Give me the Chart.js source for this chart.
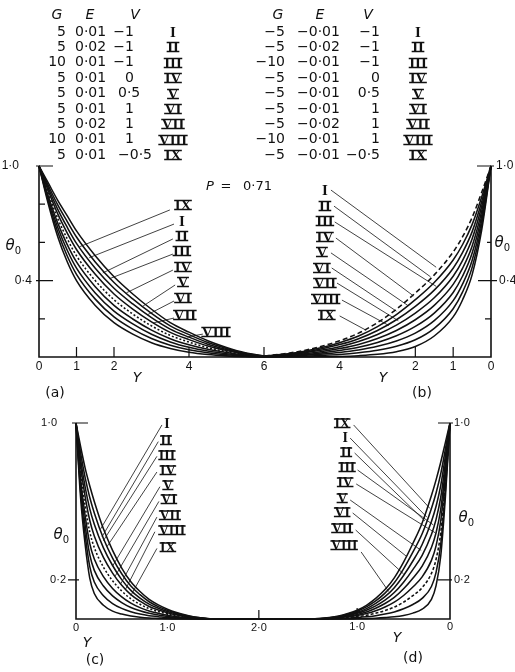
<!DOCTYPE html>
<html>
<head>
<meta charset="utf-8">
<title>Temperature profiles θ0 against Y, P = 0·71</title>
<script src="https://cdn.jsdelivr.net/npm/chart.js@4.4.1/dist/chart.umd.min.js"></script>
<style>
  html, body { margin: 0; padding: 0; background: #fff; }
  #sheet { position: relative; width: 515px; height: 672px; overflow: hidden; background: #fff; }
  #sheet canvas { position: absolute; left: 0; top: 0; }
</style>
</head>
<body>
<div id="sheet">
  <canvas id="panelA" width="515" height="672"></canvas>
  <canvas id="panelB" width="515" height="672"></canvas>
  <canvas id="panelC" width="515" height="672"></canvas>
  <canvas id="panelD" width="515" height="672"></canvas>
</div>
<script>
// ---------------- parameters of the nine cases ----------------
const caseNames = ['I', 'II', 'III', 'IV', 'V', 'VI', 'VII', 'VIII', 'IX'];
const gPlus  = [5, 5, 10, 5, 5, 5, 5, 10, 5];
const ePlus  = [0.01, 0.02, 0.01, 0.01, 0.01, 0.01, 0.02, 0.01, 0.01];
const gMinus = [-5, -5, -10, -5, -5, -5, -5, -10, -5];
const eMinus = [-0.01, -0.02, -0.01, -0.01, -0.01, -0.01, -0.02, -0.01, -0.01];
const vValues = [-1, -1, -1, 0, 0.5, 1, 1, 1, -0.5];
const prandtl = 0.71;

// ---------------- profiles, upper pair (Y from 0 to 6) ----------------
const yTop = [0, 0.25, 0.5, 0.75, 1, 1.5, 2, 2.5, 3, 3.5, 4, 4.5, 5, 5.5, 6];

const thetaA = [
  [1, 0.91, 0.82, 0.74, 0.66, 0.53, 0.42, 0.33, 0.25, 0.18, 0.13, 0.085, 0.05, 0.022, 0.005],
  [1, 0.896, 0.796, 0.71, 0.628, 0.498, 0.39, 0.304, 0.228, 0.163, 0.117, 0.076, 0.045, 0.02, 0.004],
  [1, 0.883, 0.773, 0.68, 0.595, 0.465, 0.36, 0.278, 0.206, 0.146, 0.104, 0.067, 0.039, 0.017, 0.004],
  [1, 0.869, 0.749, 0.65, 0.563, 0.433, 0.33, 0.251, 0.184, 0.129, 0.091, 0.058, 0.034, 0.015, 0.003],
  [1, 0.855, 0.725, 0.62, 0.53, 0.4, 0.3, 0.225, 0.163, 0.113, 0.078, 0.049, 0.028, 0.012, 0.003],
  [1, 0.841, 0.701, 0.59, 0.498, 0.368, 0.27, 0.199, 0.141, 0.096, 0.064, 0.04, 0.023, 0.01, 0.002],
  [1, 0.828, 0.678, 0.56, 0.465, 0.335, 0.24, 0.173, 0.119, 0.079, 0.051, 0.031, 0.017, 0.007, 0.001],
  [1, 0.814, 0.654, 0.53, 0.433, 0.303, 0.21, 0.146, 0.097, 0.062, 0.038, 0.022, 0.012, 0.005, 0.001],
  [1, 0.8, 0.63, 0.5, 0.4, 0.27, 0.18, 0.12, 0.075, 0.045, 0.025, 0.013, 0.006, 0.002, 0]
];

const thetaB = [
  [1, 0.86, 0.73, 0.63, 0.55, 0.43, 0.335, 0.25, 0.18, 0.125, 0.085, 0.055, 0.032, 0.016, 0.005],
  [1, 0.835, 0.693, 0.589, 0.508, 0.39, 0.3, 0.222, 0.159, 0.11, 0.075, 0.048, 0.028, 0.014, 0.004],
  [1, 0.81, 0.655, 0.548, 0.465, 0.35, 0.265, 0.195, 0.139, 0.096, 0.065, 0.042, 0.024, 0.012, 0.004],
  [1, 0.785, 0.618, 0.506, 0.423, 0.31, 0.23, 0.167, 0.118, 0.081, 0.054, 0.035, 0.02, 0.01, 0.003],
  [1, 0.76, 0.58, 0.465, 0.38, 0.27, 0.195, 0.139, 0.097, 0.066, 0.044, 0.028, 0.016, 0.008, 0.002],
  [1, 0.735, 0.543, 0.424, 0.338, 0.23, 0.16, 0.111, 0.076, 0.051, 0.034, 0.021, 0.012, 0.006, 0.002],
  [1, 0.71, 0.505, 0.383, 0.295, 0.19, 0.125, 0.084, 0.056, 0.037, 0.024, 0.015, 0.008, 0.004, 0.001],
  [1, 0.685, 0.468, 0.341, 0.253, 0.15, 0.09, 0.056, 0.035, 0.022, 0.013, 0.008, 0.004, 0.002, 0.001],
  [1, 0.66, 0.43, 0.3, 0.21, 0.11, 0.055, 0.028, 0.014, 0.007, 0.003, 0.001, 0, 0, 0]
];

// ---------------- profiles, lower pair (Y from 0 to 2·1) ----------------
const yBottom = [0, 0.05, 0.1, 0.15, 0.2, 0.3, 0.4, 0.5, 0.6, 0.7, 0.8, 0.9, 1.0, 1.1, 1.2, 1.3, 1.4, 1.5, 2.1];

const thetaC = [
  [1, 0.88, 0.77, 0.68, 0.6, 0.46, 0.35, 0.26, 0.19, 0.14, 0.1, 0.072, 0.05, 0.033, 0.02, 0.01, 0.004, 0, 0],
  [1, 0.848, 0.721, 0.621, 0.541, 0.411, 0.311, 0.231, 0.168, 0.124, 0.088, 0.063, 0.044, 0.029, 0.018, 0.009, 0.004, 0, 0],
  [1, 0.815, 0.673, 0.563, 0.483, 0.363, 0.273, 0.201, 0.146, 0.107, 0.076, 0.055, 0.038, 0.025, 0.015, 0.008, 0.003, 0, 0],
  [1, 0.783, 0.624, 0.504, 0.424, 0.314, 0.234, 0.172, 0.124, 0.091, 0.064, 0.046, 0.032, 0.021, 0.013, 0.006, 0.003, 0, 0],
  [1, 0.75, 0.575, 0.445, 0.365, 0.265, 0.195, 0.143, 0.103, 0.075, 0.053, 0.038, 0.026, 0.017, 0.01, 0.005, 0.002, 0, 0],
  [1, 0.718, 0.526, 0.386, 0.306, 0.216, 0.156, 0.113, 0.081, 0.058, 0.041, 0.029, 0.019, 0.012, 0.008, 0.004, 0.002, 0, 0],
  [1, 0.685, 0.478, 0.328, 0.248, 0.168, 0.118, 0.084, 0.059, 0.042, 0.029, 0.02, 0.013, 0.008, 0.005, 0.003, 0.001, 0, 0],
  [1, 0.653, 0.429, 0.269, 0.189, 0.119, 0.079, 0.054, 0.037, 0.025, 0.017, 0.012, 0.007, 0.004, 0.003, 0.001, 0, 0, 0],
  [1, 0.62, 0.38, 0.21, 0.13, 0.07, 0.04, 0.025, 0.015, 0.009, 0.005, 0.003, 0.001, 0, 0, 0, 0, 0, 0]
];

const thetaD = [
  [1, 0.9, 0.8, 0.71, 0.63, 0.49, 0.385, 0.29, 0.21, 0.15, 0.105, 0.07, 0.045, 0.028, 0.015, 0.007, 0.002, 0, 0],
  [1, 0.865, 0.74, 0.643, 0.564, 0.435, 0.341, 0.256, 0.185, 0.132, 0.092, 0.062, 0.04, 0.025, 0.013, 0.006, 0.002, 0, 0],
  [1, 0.83, 0.68, 0.575, 0.498, 0.38, 0.296, 0.222, 0.16, 0.114, 0.08, 0.053, 0.034, 0.021, 0.011, 0.005, 0.001, 0, 0],
  [1, 0.795, 0.62, 0.508, 0.431, 0.325, 0.252, 0.188, 0.135, 0.096, 0.067, 0.045, 0.029, 0.018, 0.009, 0.004, 0.001, 0, 0],
  [1, 0.76, 0.56, 0.44, 0.365, 0.27, 0.208, 0.154, 0.11, 0.079, 0.055, 0.036, 0.023, 0.014, 0.008, 0.004, 0.001, 0, 0],
  [1, 0.725, 0.5, 0.373, 0.299, 0.215, 0.163, 0.12, 0.086, 0.061, 0.042, 0.028, 0.018, 0.011, 0.006, 0.003, 0.001, 0, 0],
  [1, 0.69, 0.44, 0.305, 0.233, 0.16, 0.119, 0.086, 0.061, 0.043, 0.029, 0.019, 0.012, 0.007, 0.004, 0.002, 0.001, 0, 0],
  [1, 0.655, 0.38, 0.238, 0.166, 0.105, 0.074, 0.052, 0.036, 0.025, 0.017, 0.011, 0.007, 0.004, 0.002, 0.001, 0, 0, 0],
  [1, 0.62, 0.32, 0.17, 0.1, 0.05, 0.03, 0.018, 0.011, 0.007, 0.004, 0.002, 0.001, 0, 0, 0, 0, 0, 0]
];

// ---------------- case labels and their pointer lines (axis units) ----------------
const namesA = ['IX', 'I', 'II', 'III', 'IV', 'V', 'VI', 'VII', 'VIII'];
const labelAtA = [[3.84, 0.796], [3.81, 0.712], [3.81, 0.634], [3.81, 0.555], [3.84, 0.471], [3.84, 0.393], [3.84, 0.309], [3.89, 0.22], [4.72, 0.131]];
const pointerFromA = [[3.49, 0.77], [3.6, 0.696], [3.57, 0.618], [3.57, 0.539], [3.57, 0.455], [3.63, 0.377], [3.6, 0.293], [3.6, 0.204], [4.37, 0.12]];
const pointerToA = [[1.08, 0.577], [1.34, 0.52], [1.7, 0.44], [1.88, 0.41], [2.33, 0.336], [2.77, 0.266], [2.88, 0.22], [3.04, 0.178], [3.95, 0.105]];

const namesB = ['I', 'II', 'III', 'IV', 'V', 'VI', 'VII', 'VIII', 'IX'];
const labelAtB = [[4.39, 0.874], [4.39, 0.791], [4.39, 0.712], [4.39, 0.628], [4.47, 0.55], [4.47, 0.466], [4.39, 0.387], [4.37, 0.304], [4.34, 0.22]];
const pointerFromB = [[4.23, 0.874], [4.15, 0.79], [4.13, 0.707], [4.1, 0.623], [4.23, 0.545], [4.21, 0.466], [4.07, 0.387], [3.94, 0.298], [4.0, 0.215]];
const pointerToB = [[1.45, 0.47], [1.6, 0.42], [1.45, 0.37], [2.05, 0.32], [2.2, 0.27], [2.5, 0.24], [2.45, 0.19], [2.7, 0.165], [3.3, 0.14]];

const namesC = ['I', 'II', 'III', 'IV', 'V', 'VI', 'VII', 'VIII', 'IX'];
const labelAtC = [[0.995, 1.0], [0.984, 0.913], [0.995, 0.837], [1.005, 0.76], [1.005, 0.684], [1.016, 0.612], [1.027, 0.531], [1.049, 0.454], [1.005, 0.367]];
const pointerFromC = [[0.94, 0.99], [0.9, 0.905], [0.885, 0.83], [0.885, 0.75], [0.918, 0.675], [0.907, 0.6], [0.885, 0.52], [0.863, 0.445], [0.885, 0.36]];
const pointerToC = [[0.27, 0.46], [0.285, 0.42], [0.3, 0.4], [0.34, 0.37], [0.4, 0.27], [0.43, 0.22], [0.49, 0.18], [0.54, 0.15], [0.6, 0.12]];

const namesD = ['IX', 'I', 'II', 'III', 'IV', 'V', 'VI', 'VII', 'VIII'];
const labelAtD = [[1.161, 1.0], [1.129, 0.929], [1.118, 0.852], [1.108, 0.776], [1.129, 0.699], [1.161, 0.617], [1.161, 0.546], [1.161, 0.464], [1.14, 0.378]];
const pointerFromD = [[1.038, 0.99], [1.075, 0.923], [1.027, 0.847], [0.995, 0.76], [1.01, 0.689], [1.075, 0.607], [1.048, 0.541], [1.016, 0.454], [0.957, 0.342]];
const pointerToD = [[0.216, 0.564], [0.25, 0.52], [0.27, 0.5], [0.18, 0.48], [0.16, 0.44], [0.31, 0.35], [0.47, 0.32], [0.5, 0.23], [0.66, 0.14]];

// ---------------- ticks ----------------
const yMarksA = [0.2, 0.4, 0.6, 0.8, 1.0];
const yMarksB = [0.2, 0.4, 0.6, 1.0];
const yLabelsTop = [0.4, 1.0];
const xLabelsA = [0, 1, 2, 4, 6];
const xMarksA = [1, 2, 4];
const xLabelsB = [0, 1, 2, 4];
const xMarksB = [1, 2, 6];
const yMarksBottom = [0.2, 1.0];
const yLabelsBottom = [0.2, 1.0];
const xLabelsC = [0, 1, 2];
const xMarksC = [1, 2];
const xLabelsD = [0, 1];
const xMarksD = [1];

// ---------------- drawing helpers ----------------
const INK = '#111';
const SANS = '"DejaVu Sans", sans-serif';
const TICKSANS = '"Liberation Sans", Arial, sans-serif';
const SERIF = '"Liberation Serif", "DejaVu Serif", serif';

const fmtDec = (v, d) => v.toFixed(d).replace('.', '·').replace('-', '−');
const fmtNum = v => Number.isInteger(v) ? String(v).replace('-', '−') : fmtDec(v, 1);
const fmtInt = v => String(v);
const fmtBottomX = v => v === 0 ? '0' : fmtDec(v, 1);

function drawNumeral(ctx, text, cx, cy, size) {
  ctx.save();
  ctx.font = `bold ${size}px ${SERIF}`;
  ctx.textAlign = 'center';
  ctx.textBaseline = 'alphabetic';
  const cap = size * 0.66;
  const base = Math.round(cy + cap / 2);
  ctx.fillText(text, cx, base);
  if (text !== 'I') {
    const w = ctx.measureText(text).width;
    ctx.lineWidth = 1.5;
    ctx.beginPath();
    ctx.moveTo(cx - w / 2 - 0.5, base - cap + 0.3);
    ctx.lineTo(cx + w / 2 + 0.5, base - cap + 0.3);
    ctx.moveTo(cx - w / 2 - 0.5, base - 0.4);
    ctx.lineTo(cx + w / 2 + 0.5, base - 0.4);
    ctx.stroke();
  }
  ctx.restore();
}

function drawTheta(ctx, x, y) {
  ctx.save();
  ctx.textAlign = 'center';
  ctx.textBaseline = 'middle';
  ctx.font = `italic 15px ${SANS}`;
  ctx.fillText('θ', x, y);
  ctx.font = `10px ${SANS}`;
  ctx.fillText('0', x + 8, y + 5);
  ctx.restore();
}

function drawTable(ctx, t) {
  ctx.save();
  ctx.textBaseline = 'middle';
  ctx.font = `italic 14px ${SANS}`;
  ctx.textAlign = 'center';
  ctx.fillText('G', t.head[0], 15);
  ctx.fillText('E', t.head[1], 15);
  ctx.fillText('V', t.head[2], 15);
  ctx.font = `14px ${SANS}`;
  caseNames.forEach((name, i) => {
    const y = 32 + 15.4 * i;
    ctx.textAlign = 'right';
    ctx.fillText(fmtNum(t.g[i]), t.gRight, y);
    ctx.textAlign = 'left';
    ctx.fillText(fmtDec(t.e[i], 2), t.eLeft, y);
    const v = vValues[i];
    if (t.vLeft !== null && !Number.isInteger(v)) {
      ctx.textAlign = 'left';
      ctx.fillText(fmtNum(v), t.vLeft, y);
    } else {
      ctx.textAlign = 'right';
      ctx.fillText(fmtNum(v), t.vRight, y);
    }
    drawNumeral(ctx, name, t.numeral, y, 15);
  });
  ctx.restore();
}

function decorPlugin(spec) {
  return {
    id: 'decor' + spec.key,
    afterDatasetsDraw(chart) {
      const ctx = chart.ctx;
      const sx = chart.scales.x, sy = chart.scales.y;
      const px = v => sx.getPixelForValue(v);
      const py = v => sy.getPixelForValue(v);
      const inward = Math.sign(px(1) - px(0));
      const x0 = px(0), yb = py(0), yt = py(1);
      ctx.save();
      ctx.strokeStyle = INK;
      ctx.fillStyle = INK;

      // frame: vertical θ0 axis and the Y axis
      ctx.lineWidth = 1.6;
      ctx.beginPath();
      ctx.moveTo(x0, yt);
      ctx.lineTo(x0, yb);
      ctx.lineTo(px(spec.xEnd), yb);
      ctx.stroke();

      // tick marks
      ctx.lineWidth = 1.2;
      ctx.beginPath();
      spec.yMarks.forEach((v, i) => {
        const y = py(v);
        ctx.moveTo(x0 - inward * spec.yOut[i], y);
        ctx.lineTo(x0 + inward * spec.yIn[i], y);
      });
      spec.xMarks.forEach(v => {
        const x = px(v);
        ctx.moveTo(x, yb);
        ctx.lineTo(x, yb - spec.xMarkLen);
      });
      ctx.stroke();

      // tick labels
      ctx.font = spec.tickFont;
      ctx.textBaseline = 'middle';
      ctx.textAlign = inward > 0 ? 'right' : 'left';
      spec.yLabels.forEach((v, i) => {
        ctx.fillText(fmtDec(v, 1), x0 - inward * spec.yGap[i], py(v));
      });
      ctx.textAlign = 'center';
      spec.xLabels.forEach(v => ctx.fillText(spec.xFormat(v), px(v), yb + spec.xGap));

      // axis titles and panel letter
      drawTheta(ctx, spec.theta[0], spec.theta[1]);
      ctx.font = `italic 14px ${SANS}`;
      ctx.textAlign = 'center';
      ctx.fillText('Y', spec.yTitle[0], spec.yTitle[1]);
      ctx.font = `14px ${SANS}`;
      ctx.fillText(spec.letter[0], spec.letter[1], spec.letter[2]);

      // case numerals beside the pointer lines
      spec.names.forEach((n, i) => {
        drawNumeral(ctx, n, px(spec.labelAt[i][0]), py(spec.labelAt[i][1]), spec.numeralSize);
      });

      if (spec.extra) spec.extra(ctx);
      ctx.restore();
    }
  };
}

function curveSets(yv, curves, dashIndex, dash) {
  return curves.map((th, k) => ({
    data: yv.map((v, i) => ({ x: v, y: th[i] })),
    showLine: true,
    borderColor: INK,
    borderWidth: 1.55,
    borderDash: k === dashIndex ? dash : [],
    cubicInterpolationMode: 'monotone',
    pointRadius: 0,
    fill: false,
    clip: false
  }));
}

function pointerSets(from, to) {
  return from.map((p, i) => ({
    data: [{ x: p[0], y: p[1] }, { x: to[i][0], y: to[i][1] }],
    showLine: true,
    borderColor: INK,
    borderWidth: 0.8,
    tension: 0,
    pointRadius: 0,
    fill: false,
    clip: false
  }));
}

function makePanel(id, cfg) {
  return new Chart(document.getElementById(id), {
    type: 'scatter',
    data: { datasets: [...cfg.curves, ...cfg.pointers] },
    options: {
      responsive: false,
      animation: false,
      events: [],
      layout: { padding: cfg.padding },
      plugins: { legend: { display: false }, tooltip: { enabled: false } },
      scales: {
        x: { type: 'linear', min: 0, max: cfg.xMax, reverse: !!cfg.reverse, display: false },
        y: { type: 'linear', min: 0, max: 1, display: false }
      }
    },
    plugins: [decorPlugin(cfg.decor)]
  });
}

// (a) positive G and E
makePanel('panelA', {
  padding: { left: 39, right: 251, top: 166, bottom: 315 },
  xMax: 6,
  curves: curveSets(yTop, thetaA, 4, [2, 2]),
  pointers: pointerSets(pointerFromA, pointerToA),
  decor: {
    key: 'A', xEnd: 6,
    yMarks: yMarksA, yIn: [6, 14, 6, 6, 14], yOut: [0, 3, 0, 0, 3],
    yLabels: yLabelsTop, yGap: [7, 20],
    xMarks: xMarksA, xMarkLen: 10, xLabels: xLabelsA, xFormat: fmtInt, xGap: 10,
    tickFont: `12px ${TICKSANS}`,
    theta: [10, 246], yTitle: [137, 378], letter: ['(a)', 55, 393],
    names: namesA, labelAt: labelAtA, numeralSize: 15,
    extra(ctx) {
      drawTable(ctx, { head: [57, 90, 135], g: gPlus, e: ePlus, gRight: 66, eLeft: 75, vRight: 134, vLeft: 118, numeral: 173 });
      ctx.textBaseline = 'middle';
      ctx.font = `italic 13px ${SANS}`;
      ctx.textAlign = 'left';
      ctx.fillText('P', 206, 187);
      ctx.font = `13px ${SANS}`;
      ctx.textAlign = 'center';
      ctx.fillText('=', 226, 187);
      ctx.textAlign = 'left';
      ctx.fillText(fmtDec(prandtl, 2), 243, 187);
    }
  }
});

// (b) negative G and E
makePanel('panelB', {
  padding: { left: 264, right: 24, top: 166, bottom: 315 },
  xMax: 6, reverse: true,
  curves: curveSets(yTop, thetaB, 0, [5, 3]),
  pointers: pointerSets(pointerFromB, pointerToB),
  decor: {
    key: 'B', xEnd: 6,
    yMarks: yMarksB, yIn: [6, 13, 4, 14], yOut: [0, 6, 0, 3],
    yLabels: yLabelsTop, yGap: [8, 5],
    xMarks: xMarksB, xMarkLen: 10, xLabels: xLabelsB, xFormat: fmtInt, xGap: 10,
    tickFont: `12px ${TICKSANS}`,
    theta: [499, 243], yTitle: [383, 378], letter: ['(b)', 422, 393],
    names: namesB, labelAt: labelAtB, numeralSize: 15,
    extra(ctx) {
      drawTable(ctx, { head: [278, 320, 368], g: gMinus, e: eMinus, gRight: 285, eLeft: 297, vRight: 380, vLeft: null, numeral: 418 });
    }
  }
});

// (c) positive G and E, near-wall detail
makePanel('panelC', {
  padding: { left: 76, right: 247, top: 423, bottom: 53 },
  xMax: 2.1,
  curves: curveSets(yBottom, thetaC, 4, [2, 2]),
  pointers: pointerSets(pointerFromC, pointerToC),
  decor: {
    key: 'C', xEnd: 2.1,
    yMarks: yMarksBottom, yIn: [3, 12], yOut: [8, 4],
    yLabels: yLabelsBottom, yGap: [10, 19],
    xMarks: xMarksC, xMarkLen: 9, xLabels: xLabelsC, xFormat: fmtBottomX, xGap: 9,
    tickFont: `11px ${TICKSANS}`,
    theta: [58, 535], yTitle: [87, 643], letter: ['(c)', 95, 660],
    names: namesC, labelAt: labelAtC, numeralSize: 14
  }
});

// (d) negative G and E, near-wall detail
makePanel('panelD', {
  padding: { left: 255, right: 65, top: 423, bottom: 53 },
  xMax: 2.1, reverse: true,
  curves: curveSets(yBottom, thetaD, 6, [3, 2]),
  pointers: pointerSets(pointerFromD, pointerToD),
  decor: {
    key: 'D', xEnd: 2.1,
    yMarks: yMarksBottom, yIn: [12, 12], yOut: [2, 3],
    yLabels: yLabelsBottom, yGap: [4, 4],
    xMarks: xMarksD, xMarkLen: 11, xLabels: xLabelsD, xFormat: fmtBottomX, xGap: 8,
    tickFont: `11px ${TICKSANS}`,
    theta: [463, 518], yTitle: [397, 638], letter: ['(d)', 413, 658],
    names: namesD, labelAt: labelAtD, numeralSize: 14
  }
});
</script>
</body>
</html>
